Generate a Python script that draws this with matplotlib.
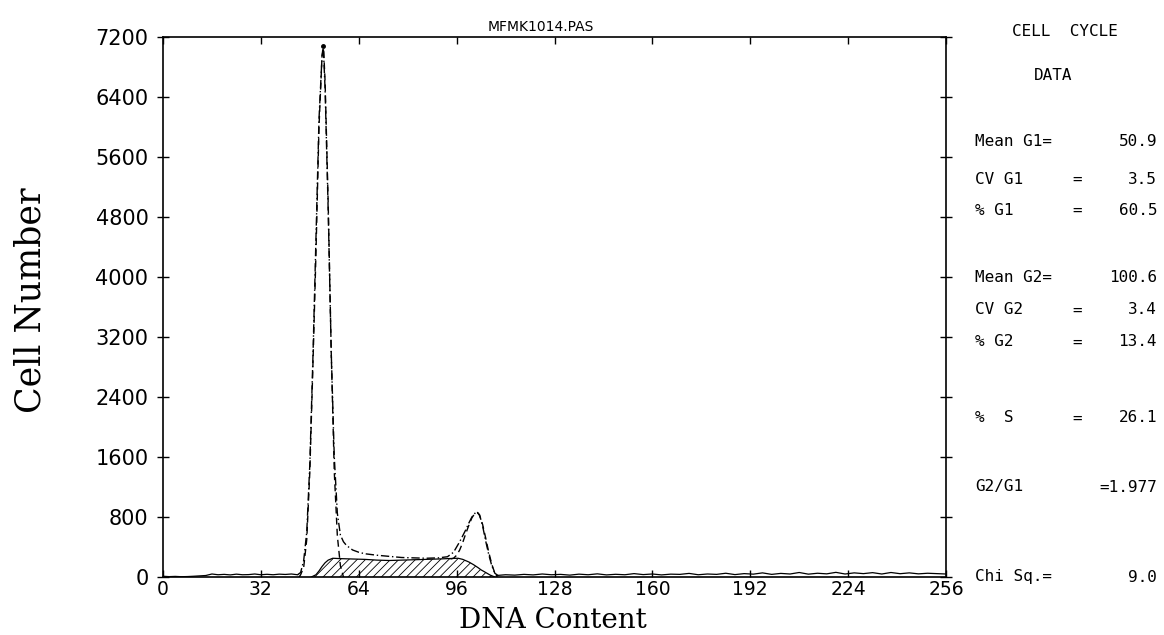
import matplotlib
matplotlib.use("Agg")
import matplotlib.pyplot as plt
import numpy as np

# ---------------- data ----------------
# observed histogram (peak region, dash-dot)
obs_x = [44, 45, 46, 47, 48, 49, 50, 51, 52, 52.4, 53, 54, 55, 56, 57, 58, 59, 60, 62, 64, 66,
         70, 74, 78, 82, 86, 90, 93, 95, 97, 99, 100, 101, 102, 102.6, 103.5, 104.5, 105.5,
         106.5, 107.5, 108.5, 109.5]
obs_y = [30, 60, 220, 600, 1500, 2900, 4500, 6100, 6950, 7080, 6500, 4900, 3000, 1600, 850,
         560, 470, 420, 360, 330, 310, 290, 275, 260, 255, 250, 255, 270, 330, 470, 630, 720,
         800, 850, 870, 830, 680, 480, 300, 150, 50, 20]

# fitted G1 gaussian (dashed)
g1_x = [44.5, 45, 46, 47, 48, 49, 50, 51, 52, 52.5, 53, 54, 55, 56, 57, 58, 59]
g1_y = [0, 30, 130, 500, 1400, 2800, 4300, 6000, 6950, 7050, 6600, 5000, 3000, 1400, 550, 150, 0]

# fitted G2 (dashed)
g2_x = [94, 95, 96, 97, 98, 99, 100, 101, 102, 102.8, 103.5, 104.5, 105.5, 106.5, 107.5, 108.5, 109.3]
g2_y = [240, 250, 290, 360, 460, 580, 690, 790, 850, 860, 820, 700, 520, 330, 170, 50, 0]

# fitted S phase (hatched)
s_x = [48.5, 50, 51, 52, 53, 54, 55.5, 58, 62, 66, 70, 74, 78, 82, 86, 90, 93, 96.5, 98, 100,
       101.5, 103, 104, 105.5, 107, 108.5]
s_y = [0, 30, 80, 140, 190, 225, 250, 245, 240, 235, 225, 220, 225, 230, 235, 240, 245, 250,
       235, 200, 165, 125, 95, 60, 25, 0]

# background noise along the baseline (solid)
bgl_x = [0, 2, 4, 6, 8, 10, 12, 14, 16, 18, 20, 22, 24, 26, 28, 30, 32, 34, 36, 38, 40, 42, 44]
bgl_y = [10, 5, 8, 4, 6, 10, 15, 20, 40, 30, 35, 28, 38, 30, 32, 40, 30, 36, 30, 38, 34, 40, 30]
bgr_x = [109, 112, 115, 118, 121, 124, 127, 130, 133, 136, 139, 142, 145, 148, 151, 154, 157,
         160, 163, 166, 169, 172, 175, 178, 181, 184, 187, 190, 193, 196, 199, 202, 205, 208,
         211, 214, 217, 220, 223, 226, 229, 232, 235, 238, 241, 244, 247, 250, 253, 256]
bgr_y = [20, 30, 25, 35, 28, 40, 30, 35, 25, 38, 30, 42, 28, 36, 30, 45, 32, 40, 28, 38,
         35, 48, 30, 40, 35, 50, 32, 45, 38, 55, 35, 48, 40, 60, 38, 50, 42, 62, 40, 55,
         45, 58, 40, 60, 44, 55, 42, 50, 45, 40]

x_ticks = [0, 32, 64, 96, 128, 160, 192, 224, 256]
y_ticks = [0, 800, 1600, 2400, 3200, 4000, 4800, 5600, 6400, 7200]

title = "MFMK1014.PAS"
x_label = "DNA Content"
y_label = "Cell Number"

stat_names = ["Mean G1=", "CV G1", "% G1", "Mean G2=", "CV G2", "% G2", "%  S", "G2/G1", "Chi Sq.="]
stat_eq = ["", "=", "=", "", "=", "=", "=", "", ""]
stat_values = ["50.9", "3.5", "60.5", "100.6", "3.4", "13.4", "26.1", "=1.977", "9.0"]

# ---------------- layout ----------------
plt.rcParams["hatch.linewidth"] = 0.6
W, H = 1164, 635
fig = plt.figure(figsize=(W / 100, H / 100), dpi=100)
fig.patch.set_facecolor("white")

ax_l, ax_r, ax_b, ax_t = 163, 946, 577, 37
ax = fig.add_axes([ax_l / W, (H - ax_b) / H, (ax_r - ax_l) / W, (ax_b - ax_t) / H])
ax.set_xlim(0, 256)
ax.set_ylim(0, 7200)

lw = 1.0
ax.plot(bgl_x, bgl_y, color="black", lw=0.9)
ax.plot(bgr_x, bgr_y, color="black", lw=0.9)

# S-phase hatched area
ax.fill_between(s_x, 0, s_y, facecolor="none", edgecolor="black", hatch="////", lw=0)
ax.plot(s_x, s_y, color="black", lw=0.9)

ax.plot(g1_x, g1_y, color="black", lw=lw, linestyle=(0, (5, 3)))
ax.plot(g2_x, g2_y, color="black", lw=lw, linestyle=(0, (5, 3)))
ax.plot(obs_x, obs_y, color="black", lw=lw, linestyle=(0, (6, 2, 1, 2)))
imax = int(np.argmax(obs_y))
ax.plot([obs_x[imax]], [obs_y[imax]], "o", color="black", ms=2.5)
ax.plot([obs_x[0], obs_x[-1]], [0, 0], color="black", lw=0.8)

for s in ax.spines.values():
    s.set_linewidth(1.2)

ax.set_xticks(x_ticks)
ax.set_yticks(y_ticks)
ax.tick_params(axis="y", direction="inout", length=9, width=1, left=True, right=True,
               labelsize=15, pad=6, labelcolor="black")
ax.tick_params(axis="x", direction="in", length=5, width=1, top=True, bottom=True,
               labelsize=13.5, pad=2, labelcolor="black")
for lab in ax.get_xticklabels() + ax.get_yticklabels():
    lab.set_fontfamily("DejaVu Sans")

fig.text(553 / W, 1 - 634 / H, x_label, ha="center", va="bottom", fontsize=20,
         fontfamily="DejaVu Serif")
fig.text(31 / W, 1 - 300 / H, y_label, ha="center", va="center", rotation=90, fontsize=25,
         fontfamily="DejaVu Serif")

fig.text(541 / W, 1 - 27 / H, title, ha="center", va="center", fontsize=10,
         fontfamily="DejaVu Sans")

mono = "DejaVu Sans Mono"
fs = 11.5
fig.text(1065 / W, 1 - 32 / H, "CELL  CYCLE", ha="center", va="center", fontsize=fs, fontfamily=mono)
fig.text(1053 / W, 1 - 75 / H, "DATA", ha="center", va="center", fontsize=fs, fontfamily=mono)

row_y = [141, 179, 210, 277, 310, 342, 418, 487, 577]
for name, eq, val, yy in zip(stat_names, stat_eq, stat_values, row_y):
    fig.text(975 / W, 1 - yy / H, name, ha="left", va="center", fontsize=fs, fontfamily=mono)
    if eq:
        fig.text(1077 / W, 1 - yy / H, eq, ha="center", va="center", fontsize=fs, fontfamily=mono)
    fig.text(1157 / W, 1 - yy / H, val, ha="right", va="center", fontsize=fs, fontfamily=mono)

fig.savefig("out.png", dpi=100, facecolor="white")
